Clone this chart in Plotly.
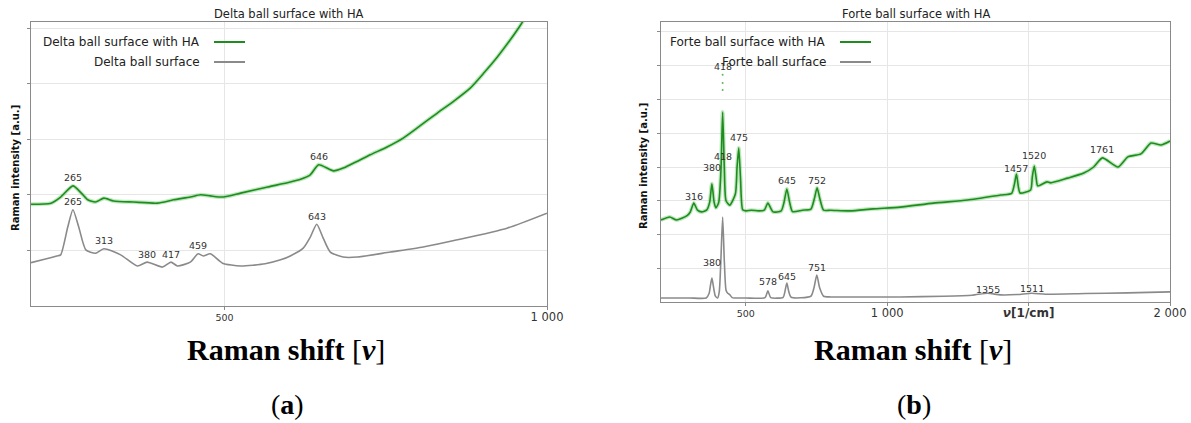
import numpy as np
import plotly.graph_objects as go

# ---------------- data ----------------
# (a) Delta ball: Raman shift [1/cm] and intensity [a.u.]
delta_ha_shift = [200, 231, 246, 265, 278, 288, 300, 313, 328, 359, 396, 421, 447, 463, 478,
                  498, 525, 567, 602, 618, 633, 646, 669, 684, 726, 752, 777, 803, 830, 856, 881,
                  902, 923, 942, 961, 985]
delta_ha_int = [1.83, 1.85, 1.96, 2.16, 2.03, 1.91, 1.87, 1.94, 1.89, 1.87, 1.85, 1.91, 1.96, 2.00, 1.98,
                1.96, 2.03, 2.14, 2.23, 2.28, 2.36, 2.54, 2.43, 2.48, 2.72, 2.86, 3.02, 3.24, 3.47, 3.69, 3.92,
                4.19, 4.48, 4.77, 5.09, 5.60]

delta_shift = [200, 224, 240, 246, 257, 265, 274, 285, 300, 313, 339, 365, 380, 404, 417, 427, 447, 459,
               467, 478, 497, 525, 563, 587, 602, 622, 633, 643, 653, 664, 684, 706, 757, 808, 861, 938, 1000]
delta_int = [0.78, 0.85, 0.90, 0.92, 1.42, 1.73, 1.42, 1.01, 0.95, 1.03, 0.92, 0.72, 0.79, 0.70, 0.79, 0.72,
             0.79, 0.94, 0.90, 0.94, 0.77, 0.72, 0.76, 0.83, 0.90, 1.04, 1.24, 1.47, 1.22, 0.97, 0.88, 0.88,
             0.97, 1.06, 1.19, 1.40, 1.67]

# (b) Forte ball
forte_ha_shift = [200, 231, 255, 291, 303, 316, 329, 344, 362, 372, 380, 388, 394, 404, 412, 418, 424, 430,
                  443, 463, 469, 475, 481, 489, 500, 520, 545, 565, 578, 596, 625, 635, 645, 655, 665, 700,
                  730, 742, 752, 762, 775, 800, 869, 950, 1046, 1163, 1284, 1401, 1440, 1450, 1457, 1464,
                  1470, 1507, 1513, 1520, 1527, 1532, 1565, 1578, 1638, 1695, 1730, 1761, 1816, 1851, 1897,
                  1933, 1968, 2000]
forte_ha_int = [2.43, 2.52, 2.43, 2.55, 2.66, 2.93, 2.72, 2.67, 2.73, 2.95, 3.50, 2.95, 2.79, 2.95, 3.90, 5.63,
                3.95, 3.00, 2.87, 3.20, 4.00, 4.56, 3.70, 2.73, 2.70, 2.72, 2.70, 2.72, 2.93, 2.67, 2.70, 2.95,
                3.35, 2.95, 2.68, 2.72, 2.75, 3.05, 3.38, 3.05, 2.72, 2.72, 2.70, 2.76, 2.81, 2.93, 3.02, 3.17,
                3.22, 3.50, 3.79, 3.40, 3.23, 3.32, 3.70, 4.03, 3.65, 3.44, 3.56, 3.53, 3.67, 3.82, 4.00, 4.27,
                4.00, 4.30, 4.39, 4.71, 4.65, 4.77]
# isolated spike points above the 418 band
forte_ha_spike_shift = [418, 418, 418]
forte_ha_spike_int = [6.28, 6.49, 6.73]

forte_shift = [200, 300, 360, 370, 375, 380, 385, 392, 400, 406, 412, 418, 424, 430, 436, 443, 452, 500, 568,
               578, 588, 632, 638, 645, 652, 660, 730, 741, 751, 761, 775, 800, 900, 1046, 1200, 1300, 1355,
               1400, 1460, 1511, 1560, 1700, 1850, 2000]
forte_int = [0.12, 0.12, 0.12, 0.25, 0.50, 0.71, 0.48, 0.18, 0.12, 0.30, 1.30, 2.52, 1.20, 0.35, 0.26, 0.22,
             0.13, 0.12, 0.13, 0.33, 0.13, 0.14, 0.30, 0.56, 0.30, 0.14, 0.17, 0.42, 0.80, 0.42, 0.17, 0.15,
             0.15, 0.15, 0.17, 0.20, 0.26, 0.21, 0.22, 0.26, 0.23, 0.25, 0.27, 0.30]

# labelled band positions
delta_ha_peaks = [265, 646]
delta_peaks = [265, 313, 380, 417, 459, 643]
forte_ha_peaks = [316, 380, 418, 418, 475, 645, 752, 1457, 1520, 1761]
forte_peaks = [380, 578, 645, 751, 1355, 1511]

x_ticks_a = [500, 1000]
x_ticktext_a = ["500", "1 000"]
x_ticks_b = [500, 1000, 1500, 2000]
x_ticktext_b = ["500", "1 000", "ν[1/cm]", "2 000"]

# ---------------- style ----------------
W, H = 1191, 423
GREEN = "#1f8c1f"
HALO = "rgba(70,190,70,0.35)"
GRAY = "#8a8a8a"
FONT = "DejaVu Sans"
SERIF = "Liberation Serif"


def px(x):
    return x / W


def py(y):
    return 1 - y / H


fig = go.Figure()


def spectrum(x, y, color, xa, ya, halo=False):
    if halo:
        fig.add_trace(go.Scatter(x=x, y=y, mode="lines", xaxis=xa, yaxis=ya, hoverinfo="skip",
                                 line=dict(color=HALO, width=4, shape="spline", smoothing=0.6),
                                 showlegend=False))
    fig.add_trace(go.Scatter(x=x, y=y, mode="lines", xaxis=xa, yaxis=ya,
                             line=dict(color=color, width=1.6, shape="spline", smoothing=0.6),
                             showlegend=False))


spectrum(delta_ha_shift, delta_ha_int, GREEN, "x", "y", halo=True)
spectrum(delta_shift, delta_int, GRAY, "x", "y")
spectrum(forte_ha_shift, forte_ha_int, GREEN, "x2", "y2", halo=True)
spectrum(forte_shift, forte_int, GRAY, "x2", "y2")
fig.add_trace(go.Scatter(x=forte_ha_spike_shift, y=forte_ha_spike_int, mode="markers", xaxis="x2", yaxis="y2",
                         marker=dict(color="#5cb85c", size=2), showlegend=False))

annotations = []


def peak_labels(peaks, sx, sy, xa, ya, shifts, anchors=None):
    for i, (p, s) in enumerate(zip(peaks, shifts)):
        yv = float(np.interp(p, sx, sy))
        if anchors and anchors[i] is not None:
            yv = anchors[i]
        annotations.append(dict(x=p, y=yv, xref=xa, yref=ya, text=str(p), showarrow=False,
                                yshift=s, yanchor="middle", xanchor="center",
                                font=dict(family=FONT, size=9.5, color="#333333")))


peak_labels(delta_ha_peaks, delta_ha_shift, delta_ha_int, "x", "y", [8, 8])
peak_labels(delta_peaks, delta_shift, delta_int, "x", "y", [8, 8, 8, 8, 8, 8])
peak_labels(forte_ha_peaks, forte_ha_shift, forte_ha_int, "x2", "y2",
            [7, 16, 8, -45, 11, 8, 7, 6, 10, 8],
            anchors=[None, None, max(forte_ha_spike_int), None, None, None, None, None, None, None])
peak_labels(forte_peaks, forte_shift, forte_int, "x2", "y2", [16, 9, 7, 8, 4, 5])

panels = [
    dict(title="Delta ball surface with HA", names=["Delta ball surface with HA", "Delta ball surface"],
         left=31, right=547, top=22, bottom=306, text_end=202, line=(214, 245), ylab_x=15, tag="a"),
    dict(title="Forte ball surface with HA", names=["Forte ball surface with HA", "Forte ball surface"],
         left=661, right=1170, top=22, bottom=302, text_end=828, line=(840, 871), ylab_x=643, tag="b"),
]

shapes = []
for p in panels:
    cx = (p["left"] + p["right"]) / 2
    annotations.append(dict(x=px(cx), y=py(14), xref="paper", yref="paper", text=p["title"], showarrow=False,
                            xanchor="center", yanchor="middle", font=dict(family=FONT, size=11.5, color="#222")))
    for name, color, yy in zip(p["names"], [GREEN, GRAY], [42, 62]):
        annotations.append(dict(x=px(p["text_end"]), y=py(yy), xref="paper", yref="paper", text=name,
                                showarrow=False, xanchor="right", yanchor="middle",
                                font=dict(family=FONT, size=12, color="#222")))
        shapes.append(dict(type="line", xref="paper", yref="paper", x0=px(p["line"][0]), x1=px(p["line"][1]),
                           y0=py(yy), y1=py(yy), line=dict(color=color, width=2)))
    annotations.append(dict(x=px(p["ylab_x"]), y=py((p["top"] + p["bottom"]) / 2 + 4), xref="paper",
                            yref="paper", text="<b>Raman intensity [a.u.]</b>", textangle=-90, showarrow=False,
                            xanchor="center", yanchor="middle", font=dict(family=FONT, size=10, color="#111")))
    annotations.append(dict(x=px(cx - 3), y=py(349), xref="paper", yref="paper",
                            text="<b>Raman shift </b>[<b><i>ν</i></b>]", showarrow=False,
                            xanchor="center", yanchor="middle", font=dict(family=SERIF, size=30, color="#000")))
    annotations.append(dict(x=px(cx - 2), y=py(404), xref="paper", yref="paper",
                            text="(<b>%s</b>)" % p["tag"], showarrow=False,
                            xanchor="center", yanchor="middle", font=dict(family=SERIF, size=28, color="#000")))


def tick_html(t):
    if t == "500":
        return t
    if t.startswith("ν"):
        return '<span style="font-size:12px"><b><i>ν</i>[1/cm]</b></span>'
    return '<span style="font-size:11.5px">%s</span>' % t


axis_common = dict(showgrid=True, gridcolor="#e6e6e6", gridwidth=1, showline=True, linecolor="#8a8a8a",
                   linewidth=1, mirror=True, ticks="outside", ticklen=3, tickcolor="#8a8a8a", zeroline=False,
                   automargin=False, tickfont=dict(family=FONT, size=9.5, color="#333"))

fig.update_layout(
    width=W, height=H, autosize=False, margin=dict(l=0, r=0, t=0, b=0, pad=0, autoexpand=False),
    paper_bgcolor="white", plot_bgcolor="white", showlegend=False,
    xaxis=dict(domain=[px(31), px(547)], range=[200, 1000], anchor="y", tickvals=x_ticks_a,
               ticktext=[tick_html(t) for t in x_ticktext_a], **axis_common),
    yaxis=dict(domain=[py(306), py(22)], range=[0, 5.108], anchor="x", tickvals=[1, 2, 3, 4, 5],
               showticklabels=False, **axis_common),
    xaxis2=dict(domain=[px(661), px(1170)], range=[200, 2000], anchor="y2", tickvals=x_ticks_b,
                ticktext=[tick_html(t) for t in x_ticktext_b], **axis_common),
    yaxis2=dict(domain=[py(302), py(22)], range=[0, 8.296], anchor="x2", tickvals=[1, 2, 3, 4, 5, 6, 7, 8],
                showticklabels=False, **axis_common),
    annotations=annotations, shapes=shapes,
)

# keep the page exactly one figure in size, with no scrollbars
page_fix = (
    "document.documentElement.style.overflow='hidden';"
    "document.body.style.overflow='hidden';"
    "document.body.style.margin='0';"
)

fig.write_html("out.html", config={"responsive": False}, post_script=page_fix)
